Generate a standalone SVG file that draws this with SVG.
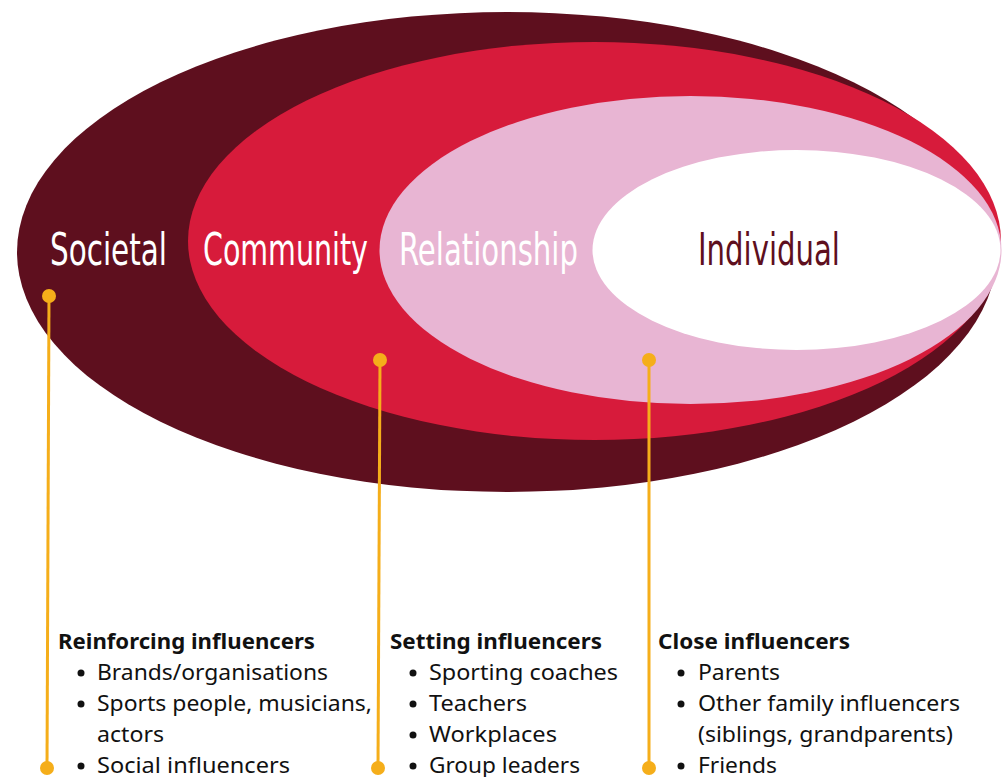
<svg xmlns="http://www.w3.org/2000/svg" width="1002" height="777" viewBox="0 0 1002 777">
<style>
.lvl{font-family:"Liberation Sans Narrow","DejaVu Sans Condensed","Roboto",sans-serif;font-size:44px;fill:#ffffff}
.hd{font-family:"Noto Sans","Open Sans",sans-serif;font-size:22px;font-weight:bold;fill:#111111}
.it{font-family:"Noto Sans","Open Sans",sans-serif;font-size:22px;fill:#111111}
.ln{stroke:#F5AE1A;stroke-width:3;fill:none}
.dot{fill:#F5AE1A}
.bl{fill:#111111}
</style>
<rect width="1002" height="777" fill="#ffffff"/>
<g id="societal">
<ellipse cx="507" cy="252" rx="490" ry="240" fill="#5E0F1E"/>
<text class="lvl" transform="translate(50,265) scale(0.75,1)" x="0" y="0" textLength="156" lengthAdjust="spacingAndGlyphs">Societal</text>
</g>
<g id="community">
<ellipse cx="594.5" cy="241" rx="406.5" ry="199" fill="#D71B3B"/>
<text class="lvl" transform="translate(203,265) scale(0.75,1)" x="0" y="0" textLength="220" lengthAdjust="spacingAndGlyphs">Community</text>
</g>
<g id="relationship">
<ellipse cx="690.5" cy="250" rx="311" ry="154" fill="#E8B5D3"/>
<text class="lvl" transform="translate(399,265) scale(0.75,1)" x="0" y="0" textLength="238.7" lengthAdjust="spacingAndGlyphs">Relationship</text>
</g>
<g id="individual">
<ellipse cx="796.5" cy="250" rx="204" ry="100" fill="#ffffff"/>
<text class="lvl" transform="translate(698,265) scale(0.75,1)" x="0" y="0" textLength="189.3" lengthAdjust="spacingAndGlyphs" style="fill:#5E0F1E">Individual</text>
</g>
<g id="connectors">
<line class="ln" x1="49" y1="296" x2="47" y2="768"/>
<circle class="dot" cx="49" cy="296" r="7"/>
<circle class="dot" cx="47" cy="768" r="7"/>
<line class="ln" x1="380" y1="360" x2="378" y2="768"/>
<circle class="dot" cx="380" cy="360" r="7"/>
<circle class="dot" cx="378" cy="768" r="7"/>
<line class="ln" x1="649" y1="360" x2="649" y2="768"/>
<circle class="dot" cx="649" cy="360" r="7"/>
<circle class="dot" cx="649" cy="768" r="7"/>
</g>
<g id="reinforcing">
<text class="hd" x="58" y="649" textLength="257" lengthAdjust="spacingAndGlyphs">Reinforcing influencers</text>
<circle class="bl" cx="81" cy="673" r="3.5"/>
<text class="it" x="97" y="680" textLength="231" lengthAdjust="spacingAndGlyphs">Brands/organisations</text>
<circle class="bl" cx="81" cy="704" r="3.5"/>
<text class="it" x="97" y="711" textLength="275" lengthAdjust="spacingAndGlyphs">Sports people, musicians,</text>
<text class="it" x="97" y="742" textLength="67" lengthAdjust="spacingAndGlyphs">actors</text>
<circle class="bl" cx="81" cy="766" r="3.5"/>
<text class="it" x="97" y="773" textLength="193" lengthAdjust="spacingAndGlyphs">Social influencers</text>
</g>
<g id="setting">
<text class="hd" x="390" y="649" textLength="212" lengthAdjust="spacingAndGlyphs">Setting influencers</text>
<circle class="bl" cx="413" cy="673" r="3.5"/>
<text class="it" x="429" y="680" textLength="189" lengthAdjust="spacingAndGlyphs">Sporting coaches</text>
<circle class="bl" cx="413" cy="704" r="3.5"/>
<text class="it" x="429" y="711" textLength="98" lengthAdjust="spacingAndGlyphs">Teachers</text>
<circle class="bl" cx="413" cy="735" r="3.5"/>
<text class="it" x="429" y="742" textLength="128" lengthAdjust="spacingAndGlyphs">Workplaces</text>
<circle class="bl" cx="413" cy="766" r="3.5"/>
<text class="it" x="429" y="773" textLength="151" lengthAdjust="spacingAndGlyphs">Group leaders</text>
</g>
<g id="close">
<text class="hd" x="658" y="649" textLength="192" lengthAdjust="spacingAndGlyphs">Close influencers</text>
<circle class="bl" cx="681" cy="673" r="3.5"/>
<text class="it" x="698" y="680" textLength="82" lengthAdjust="spacingAndGlyphs">Parents</text>
<circle class="bl" cx="681" cy="704" r="3.5"/>
<text class="it" x="698" y="711" textLength="262" lengthAdjust="spacingAndGlyphs">Other family influencers</text>
<text class="it" x="698" y="742" textLength="255" lengthAdjust="spacingAndGlyphs">(siblings, grandparents)</text>
<circle class="bl" cx="681" cy="766" r="3.5"/>
<text class="it" x="698" y="773" textLength="79" lengthAdjust="spacingAndGlyphs">Friends</text>
</g>
</svg>
